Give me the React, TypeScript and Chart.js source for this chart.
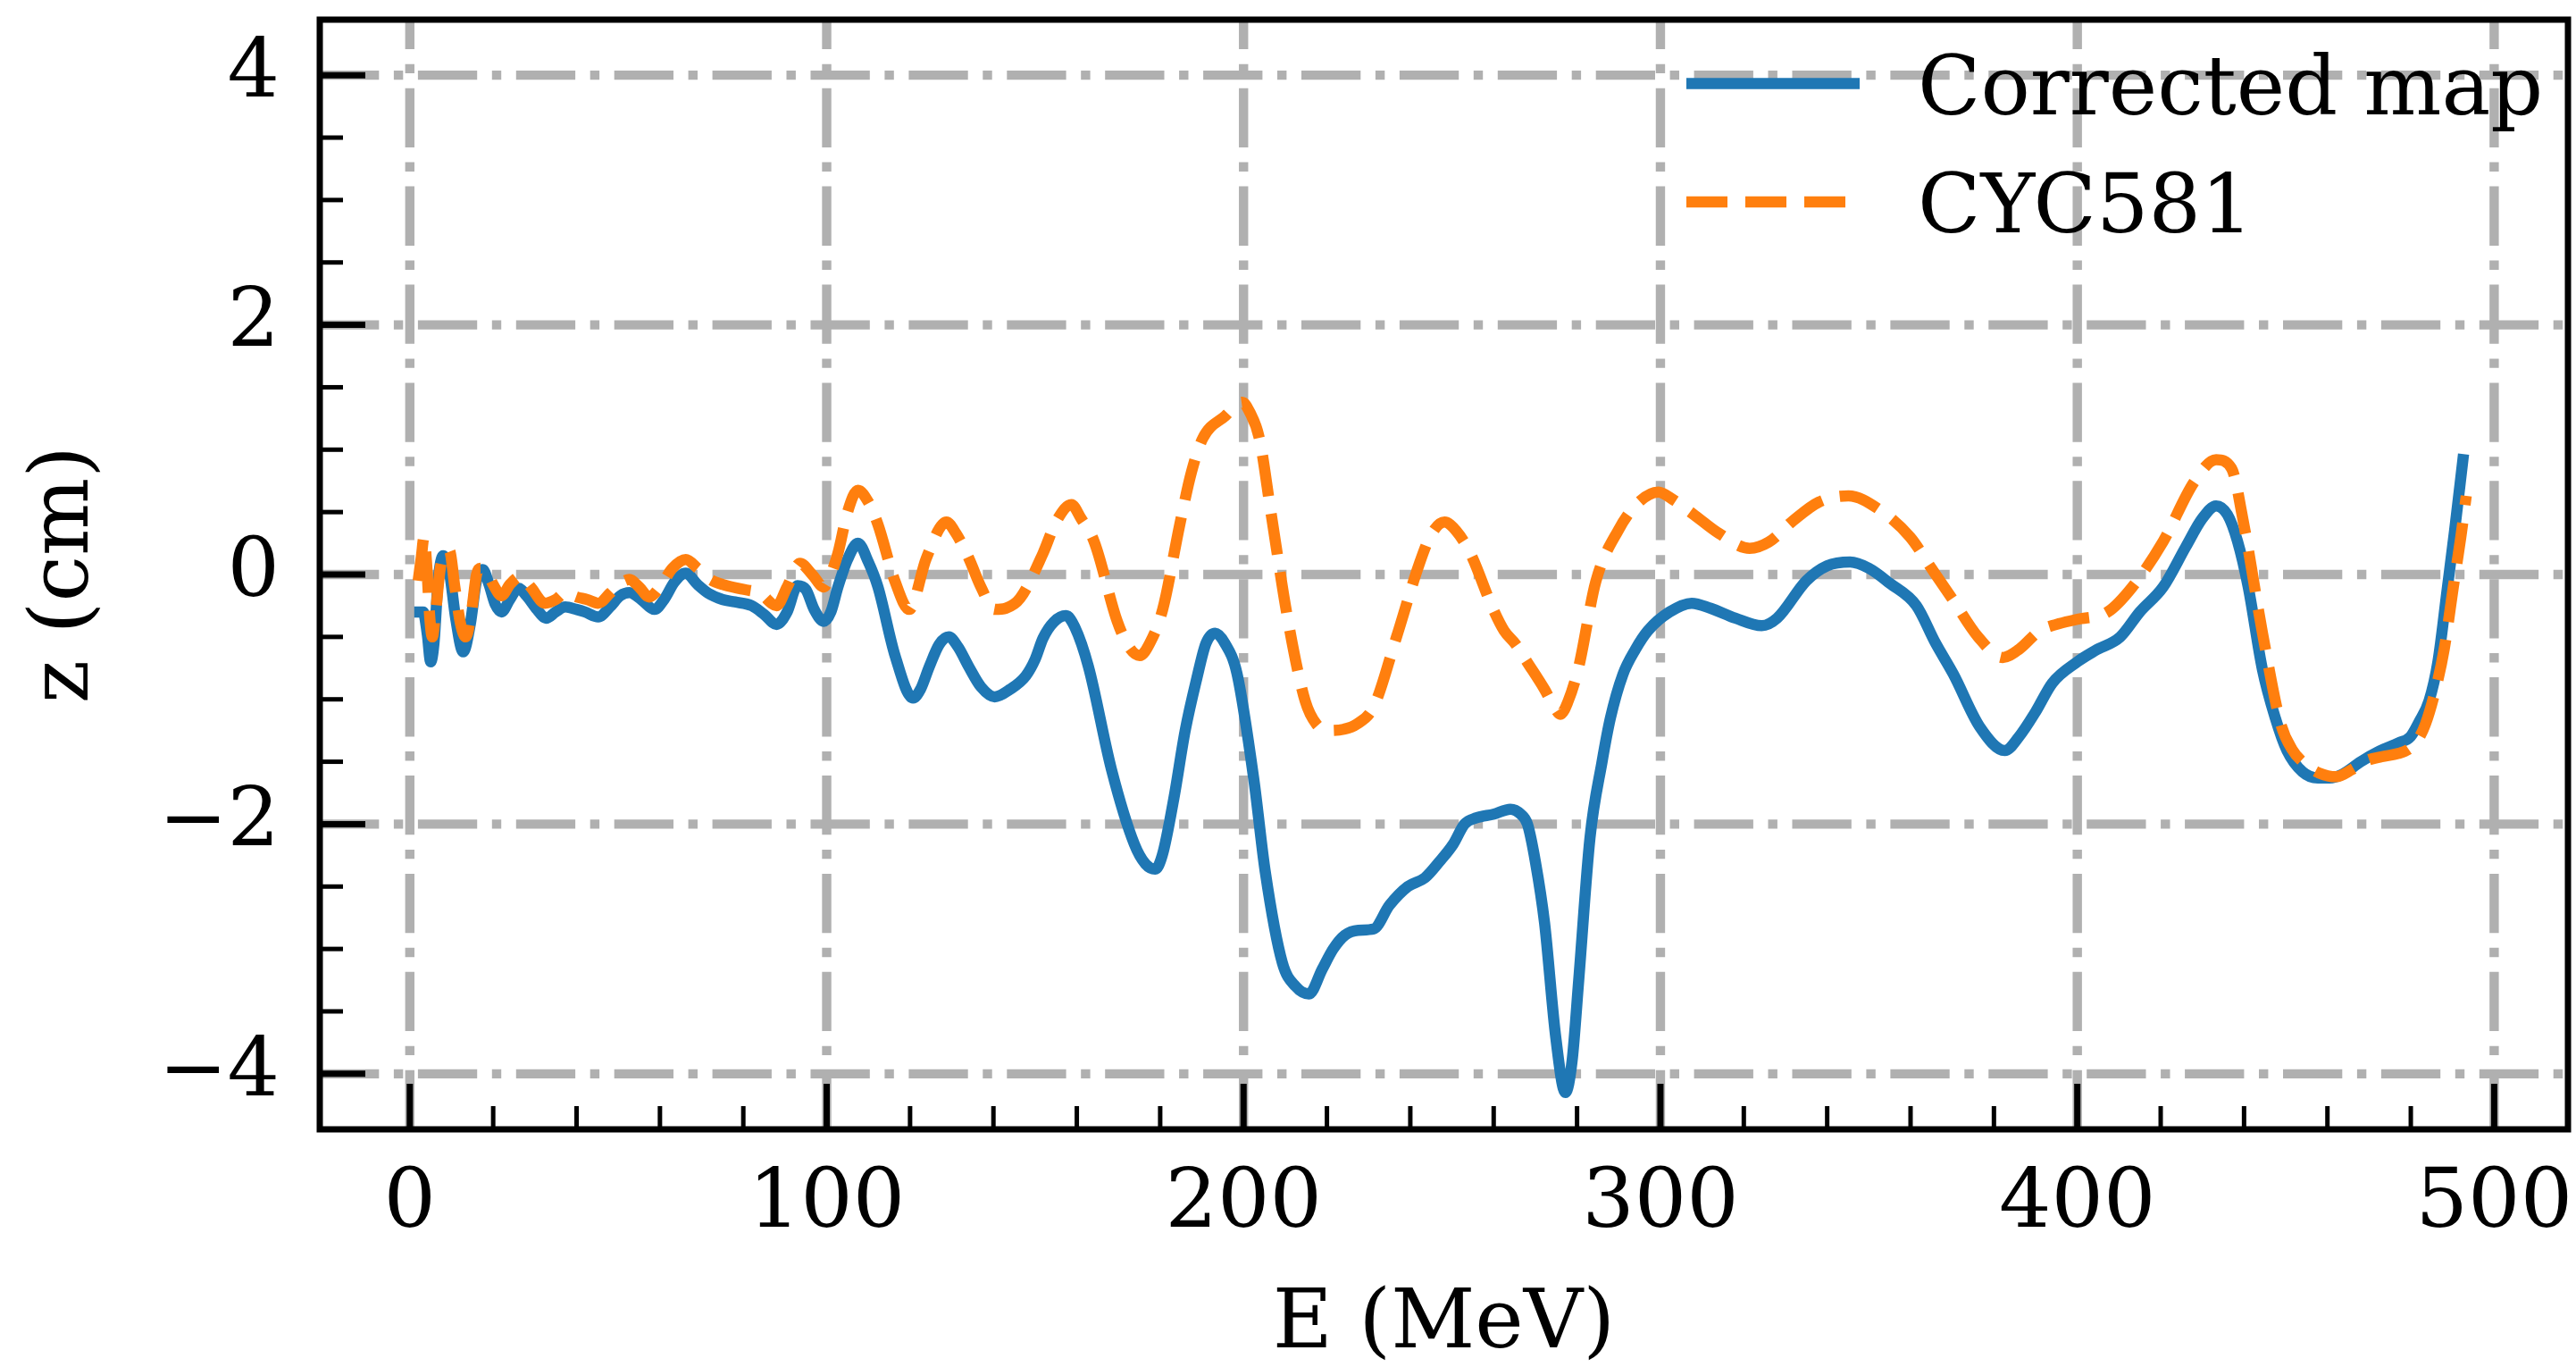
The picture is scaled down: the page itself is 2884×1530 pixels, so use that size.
import { useEffect, useRef } from "react";
import { Chart, registerables } from "chart.js";

Chart.register(...registerables);

// ---------------- data ----------------
const correctedE = [
  2.4, 3.2, 4.2, 5.0, 5.8, 6.8, 8.0, 9.5, 11.0, 12.8, 14.5, 16.0, 17.5, 19.0, 20.5, 22.0, 24.0, 26.0, 28.0, 30.5,
  32.7, 35.0, 37.3, 40.0, 42.0, 45.2, 48.0, 50.5, 52.7, 55.5, 58.7, 61.0, 63.5, 66.2, 69.0, 71.6, 75.0, 78.0, 82.0, 85.0,
  88.0, 90.5, 93.0, 95.0, 97.0, 99.3, 101.0, 102.7, 105.0, 107.5, 110.0, 112.3, 116.4, 120.7, 122.5, 124.6, 127.0, 129.3, 131.5, 134.1,
  137.0, 140.3, 144.0, 147.8, 150.0, 151.9, 154.5, 157.4, 159.5, 162.8, 168.3, 173.8, 176.5, 178.8, 180.5, 183.3, 186.0, 188.8, 191.0, 193.2,
  195.5, 198.4, 202.5, 205.2, 209.3, 212.5, 215.7, 218.9, 221.5, 224.3, 227.5, 231.2, 235.0, 239.4, 243.5, 247.0, 250.3, 253.0, 255.8, 260.0,
  264.0, 266.5, 268.1, 270.0, 272.2, 274.9, 277.2, 278.8, 280.4, 283.1, 286.0, 288.0, 291.0, 294.0, 297.0, 302.2, 307.5, 312.0, 318.0, 324.3,
  328.0, 335.0, 340.0, 345.5, 350.0, 355.0, 361.4, 366.0, 370.3, 376.6, 382.6, 386.0, 390.0, 394.0, 400.0, 404.3, 410.3, 415.0, 420.6, 426.0,
  430.0, 433.3, 436.0, 438.4, 441.0, 444.4, 447.5, 450.3, 454.0, 457.7, 460.5, 463.6, 468.0, 472.5, 477.0, 479.9, 482.0, 484.4, 486.5, 488.8,
  490.5, 492.5,
];
const correctedZ = [
  -0.3, -0.3, -0.48, -0.7, -0.55, -0.05, 0.15, 0.02, -0.35, -0.62, -0.4, -0.05, 0.04, -0.08, -0.24, -0.3, -0.2, -0.11, -0.17, -0.28,
  -0.35, -0.3, -0.26, -0.28, -0.3, -0.34, -0.26, -0.17, -0.145, -0.2, -0.28, -0.2, -0.06, 0.01, -0.08, -0.15, -0.2, -0.22, -0.25, -0.32,
  -0.4, -0.3, -0.09, -0.12, -0.28, -0.375, -0.3, -0.1, 0.12, 0.25, 0.1, -0.1, -0.65, -0.99, -0.92, -0.74, -0.56, -0.5, -0.58, -0.74,
  -0.9, -0.98, -0.92, -0.81, -0.68, -0.51, -0.38, -0.33, -0.42, -0.74, -1.56, -2.16, -2.32, -2.36, -2.25, -1.79, -1.25, -0.83, -0.55, -0.47,
  -0.55, -0.79, -1.65, -2.38, -3.11, -3.3, -3.36, -3.16, -3.0, -2.89, -2.85, -2.84, -2.65, -2.5, -2.43, -2.3, -2.16, -2.0, -1.95, -1.92,
  -1.88, -1.92, -2.0, -2.3, -2.79, -3.71, -4.15, -3.9, -3.25, -2.11, -1.5, -1.15, -0.8, -0.6, -0.45, -0.3, -0.23, -0.27, -0.35, -0.41,
  -0.35, -0.05, 0.07, 0.1, 0.05, -0.07, -0.25, -0.55, -0.8, -1.22, -1.41, -1.3, -1.1, -0.87, -0.7, -0.61, -0.5, -0.3, -0.1, 0.22,
  0.45, 0.55, 0.48, 0.27, -0.1, -0.76, -1.15, -1.41, -1.58, -1.63, -1.63, -1.6, -1.5, -1.415, -1.35, -1.3, -1.18, -1.01, -0.7, -0.1,
  0.35, 0.92,
];

const cycE = [
  2.0, 2.8, 3.4, 4.0, 4.8, 5.4, 6.2, 7.3, 8.5, 9.5, 10.8, 12.2, 13.4, 14.8, 16.0, 17.0, 18.5, 20.0, 22.0, 24.0,
  26.6, 29.0, 32.4, 35.0, 37.3, 40.0, 42.5, 45.2, 48.0, 50.5, 52.7, 55.0, 57.4, 60.0, 63.0, 66.2, 69.0, 71.6, 75.0, 80.2,
  84.0, 88.0, 90.5, 93.6, 96.5, 99.3, 101.0, 102.7, 105.0, 107.5, 110.0, 112.3, 116.4, 119.8, 123.9, 128.7, 131.0, 134.1, 137.0, 140.3,
  143.0, 146.4, 151.9, 155.0, 158.7, 161.0, 164.2, 169.7, 172.5, 175.1, 177.5, 180.6, 184.7, 187.5, 190.2, 195.6, 199.7, 201.5, 203.8, 206.6,
  210.7, 214.8, 217.5, 220.2, 224.0, 227.1, 231.2, 236.6, 242.1, 245.0, 248.2, 251.0, 254.4, 259.9, 262.5, 265.3, 268.0, 272.2, 274.5, 276.0,
  277.8, 280.4, 284.5, 289.9, 294.5, 299.5, 303.0, 308.0, 314.0, 321.4, 326.0, 331.8, 338.0, 345.1, 352.5, 359.9, 365.0, 370.3, 376.2, 382.1,
  386.0, 391.0, 395.0, 399.9, 407.3, 413.2, 420.6, 428.0, 433.3, 437.0, 439.9, 444.4, 448.8, 451.5, 454.7, 458.0, 462.1, 466.0, 469.5, 473.0,
  477.0, 479.5, 481.4, 483.5, 485.8, 488.0, 490.2, 492.0, 493.3,
];
const cycZ = [
  -0.05, 0.15, 0.3, 0.1, -0.35, -0.5, -0.3, 0.05, 0.17, 0.19, -0.1, -0.4, -0.5, -0.3, 0.0, 0.05, 0.02, -0.08, -0.17, -0.08,
  -0.015, -0.1, -0.23, -0.2, -0.145, -0.18, -0.2, -0.23, -0.15, -0.07, -0.04, -0.1, -0.18, -0.1, 0.05, 0.12, 0.05, -0.03, -0.08, -0.12,
  -0.15, -0.25, -0.1, 0.09, 0.0, -0.1, 0.0, 0.17, 0.5, 0.675, 0.58, 0.4, -0.056, -0.28, 0.13, 0.42, 0.33, 0.13, -0.1, -0.28,
  -0.27, -0.19, 0.17, 0.42, 0.56, 0.45, 0.26, -0.375, -0.58, -0.65, -0.55, -0.28, 0.4, 0.82, 1.09, 1.27, 1.38, 1.3, 1.09, 0.49,
  -0.375, -1.015, -1.2, -1.25, -1.24, -1.2, -1.06, -0.51, 0.08, 0.32, 0.42, 0.35, 0.17, -0.28, -0.45, -0.56, -0.7, -0.92, -1.06, -1.12,
  -1.02, -0.74, -0.056, 0.355, 0.57, 0.66, 0.6, 0.48, 0.33, 0.21, 0.26, 0.43, 0.58, 0.63, 0.52, 0.3, 0.05, -0.21, -0.5, -0.665,
  -0.6, -0.45, -0.4, -0.36, -0.3, -0.1, 0.265, 0.74, 0.92, 0.85, 0.41, -0.465, -1.195, -1.4, -1.52, -1.59, -1.62, -1.56, -1.49, -1.46,
  -1.434, -1.4, -1.34, -1.2, -0.94, -0.6, -0.1, 0.3, 0.63,
];

const seriesLabels = ["Corrected map", "CYC581"];
const xMajorTicks = [0, 100, 200, 300, 400, 500];
const yMajorTicks = [-4, -2, 0, 2, 4];
const xMinorTicks = [20, 40, 60, 80, 120, 140, 160, 180, 220, 240, 260, 280, 320, 340, 360, 380, 420, 440, 460, 480];
const yMinorTicks = [-3.5, -3, -2.5, -1.5, -1, -0.5, 0.5, 1, 1.5, 2.5, 3, 3.5];

const X_MIN = -21.6;
const X_MAX = 517.7;
const Y_MIN = -4.445;
const Y_MAX = 4.445;

const FONT = "'DejaVu Serif', serif";
const FS = 92;
const BLUE = "#1f77b4";
const ORANGE = "#ff7f0e";
const LW = 12.5;
const ORANGE_DASH = [46, 20];

const fmt = (v: number) => (v < 0 ? "\u2212" + Math.abs(v) : String(v));

const gridPlugin = {
  id: "mplGrid",
  beforeDatasetsDraw(chart: any) {
    const { ctx, chartArea: a, scales } = chart;
    ctx.save();
    ctx.strokeStyle = "#b0b0b0";
    ctx.lineWidth = 10.4;
    ctx.lineCap = "butt";
    ctx.setLineDash([66.3, 16.6, 10.4, 16.6]);
    for (const v of xMajorTicks) {
      const px = scales.x.getPixelForValue(v);
      ctx.beginPath();
      ctx.moveTo(px, a.bottom);
      ctx.lineTo(px, a.top);
      ctx.stroke();
    }
    for (const v of yMajorTicks) {
      const py = scales.y.getPixelForValue(v);
      ctx.beginPath();
      ctx.moveTo(a.left, py);
      ctx.lineTo(a.right, py);
      ctx.stroke();
    }
    ctx.restore();
  },
};

const framePlugin = {
  id: "mplFrame",
  afterDatasetsDraw(chart: any) {
    const { ctx, chartArea: a, scales } = chart;
    ctx.save();
    ctx.setLineDash([]);
    ctx.strokeStyle = "#000";
    ctx.lineCap = "butt";
    const tick = (x1: number, y1: number, x2: number, y2: number, w: number) => {
      ctx.lineWidth = w;
      ctx.beginPath();
      ctx.moveTo(x1, y1);
      ctx.lineTo(x2, y2);
      ctx.stroke();
    };
    for (const v of xMajorTicks) {
      const px = scales.x.getPixelForValue(v);
      tick(px, a.bottom, px, a.bottom - 51, 7);
    }
    for (const v of xMinorTicks) {
      const px = scales.x.getPixelForValue(v);
      tick(px, a.bottom, px, a.bottom - 26, 5);
    }
    for (const v of yMajorTicks) {
      const py = scales.y.getPixelForValue(v);
      tick(a.left, py, a.left + 51, py, 7);
    }
    for (const v of yMinorTicks) {
      const py = scales.y.getPixelForValue(v);
      tick(a.left, py, a.left + 26, py, 5);
    }
    ctx.lineWidth = 7;
    ctx.lineJoin = "miter";
    ctx.strokeRect(a.left, a.top, a.right - a.left, a.bottom - a.top);
    ctx.restore();
  },
};

const legendPlugin = {
  id: "mplLegend",
  afterDraw(chart: any) {
    const { ctx } = chart;
    const ds = chart.data.datasets;
    const order = [0, 1];
    const rows = [93.5, 226];
    ctx.save();
    order.forEach((i, r) => {
      const d = ds[i];
      const y = rows[r];
      ctx.strokeStyle = d.borderColor;
      ctx.lineWidth = d.borderWidth;
      ctx.lineCap = "butt";
      ctx.setLineDash(d.borderDash || []);
      ctx.beginPath();
      ctx.moveTo(1888, y);
      ctx.lineTo(2082, y);
      ctx.stroke();
      ctx.setLineDash([]);
      ctx.fillStyle = "#000";
      ctx.font = `${FS}px ${FONT}`;
      ctx.textAlign = "left";
      ctx.textBaseline = "alphabetic";
      ctx.fillText(d.label, 2147, y + 34);
    });
    ctx.restore();
  },
};

export default function App() {
  const ref = useRef<HTMLCanvasElement | null>(null);

  useEffect(() => {
    document.body.style.margin = "0";
    const canvas = ref.current;
    if (!canvas) return;

    const blue = correctedE.map((x, i) => ({ x, y: correctedZ[i] }));
    const orange = cycE.map((x, i) => ({ x, y: cycZ[i] }));

    const tickFont = { family: FONT, size: FS };

    const chart = new Chart(canvas, {
      type: "line",
      data: {
        datasets: [
          {
            label: seriesLabels[0],
            data: blue,
            borderColor: BLUE,
            backgroundColor: BLUE,
            borderWidth: LW,
            borderCapStyle: "square",
            borderJoinStyle: "round",
            cubicInterpolationMode: "monotone",
            pointRadius: 0,
            fill: false,
            order: 1,
          },
          {
            label: seriesLabels[1],
            data: orange,
            borderColor: ORANGE,
            backgroundColor: ORANGE,
            borderWidth: LW,
            borderDash: ORANGE_DASH,
            borderCapStyle: "butt",
            borderJoinStyle: "round",
            cubicInterpolationMode: "monotone",
            pointRadius: 0,
            fill: false,
            order: 0,
          },
        ],
      },
      options: {
        animation: false,
        responsive: false,
        maintainAspectRatio: false,
        devicePixelRatio: 1,
        parsing: true,
        layout: { padding: { left: 0, right: 9, top: 22, bottom: 0 } },
        plugins: {
          legend: { display: false },
          tooltip: { enabled: false },
          title: { display: false },
        },
        elements: { point: { radius: 0 }, line: { tension: 0.4 } },
        scales: {
          x: {
            type: "linear",
            position: "bottom",
            min: X_MIN,
            max: X_MAX,
            afterBuildTicks: (s: any) => {
              s.ticks = xMajorTicks.map((v) => ({ value: v }));
            },
            afterFit: (s: any) => {
              s.height = 266;
              s.paddingLeft = 0;
              s.paddingRight = 0;
            },
            grid: { display: false, drawTicks: false },
            border: { display: false },
            ticks: {
              font: tickFont,
              color: "#000",
              padding: 30,
              maxRotation: 0,
              minRotation: 0,
              autoSkip: false,
              callback: (v: any) => fmt(Number(v)),
            },
            title: {
              display: true,
              text: "E (MeV)",
              color: "#000",
              font: { family: FONT, size: FS, lineHeight: 1 },
              padding: { top: 0, bottom: 0 },
            },
          },
          y: {
            type: "linear",
            position: "left",
            min: Y_MIN,
            max: Y_MAX,
            afterBuildTicks: (s: any) => {
              s.ticks = yMajorTicks.map((v) => ({ value: v }));
            },
            afterFit: (s: any) => {
              s.width = 358;
              s.paddingTop = 0;
              s.paddingBottom = 0;
            },
            grid: { display: false, drawTicks: false },
            border: { display: false },
            ticks: {
              font: tickFont,
              color: "#000",
              padding: 45,
              autoSkip: false,
              callback: (v: any) => fmt(Number(v)),
            },
            title: {
              display: true,
              text: "z (cm)",
              color: "#000",
              font: { family: FONT, size: FS, lineHeight: 1 },
              padding: { top: 28, bottom: 0 },
            },
          },
        },
      } as any,
      plugins: [gridPlugin, framePlugin, legendPlugin],
    });

    return () => chart.destroy();
  }, []);

  return (
    <canvas
      ref={ref}
      width={2884}
      height={1530}
      style={{ display: "block", width: "2884px", height: "1530px" }}
    />
  );
}
